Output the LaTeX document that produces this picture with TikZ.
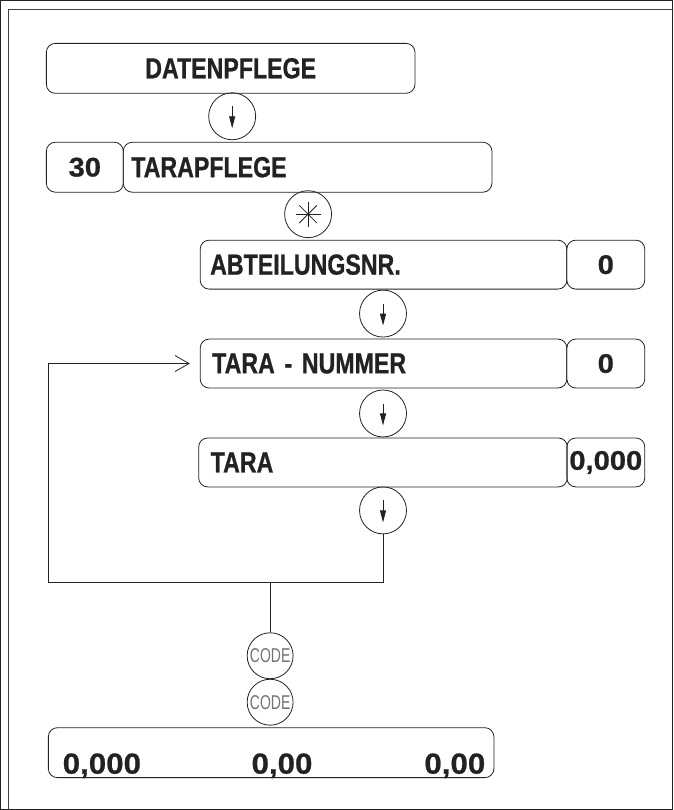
\documentclass[tikz,border=0pt]{standalone}
\usepackage{fontspec}
\setmainfont{Liberation Sans}
\newfontfamily\wordfont{Liberation Sans}[FakeStretch=0.8, FakeBold=0.8]
\newfontfamily\numfont{Liberation Sans}[FakeStretch=1.08, FakeBold=0.8]
\newfontfamily\codefont{Liberation Sans}[FakeStretch=0.7]
\usetikzlibrary{arrows.meta}
\definecolor{ink}{HTML}{222222}
\begin{document}
\begin{tikzpicture}[x=1pt,y=-1pt,
  every path/.style={line width=0.8pt, draw=ink},
  box/.style={draw=ink, rounded corners=9pt, line width=0.8pt, inner sep=0pt,
    minimum height=49pt, text=ink,
    font=\wordfont\bfseries\fontsize{29}{29}\selectfont},
  lbox/.style={box, align=left, inner xsep=#1},
  vbox/.style={box, font=\numfont\bfseries\fontsize{27}{27}\selectfont},
  keyc/.style={draw=ink, circle, minimum size=47pt, inner sep=0pt, line width=0.8pt},
  downkey/.style={keyc, path picture={
      \draw[line width=0.9pt, -{Triangle[length=12pt,width=6pt]}]
        ([yshift=10pt]path picture bounding box.center) --
        ([yshift=-12pt]path picture bounding box.center);}},
  starkey/.style={keyc, path picture={
      \foreach \a in {0,45,90,135}
        \draw[line width=0.8pt] (path picture bounding box.center) +(\a:12.5pt) -- +(\a+180:12.5pt);}},
  codekey/.style={keyc, minimum size=46pt, text=black!55,
    font=\codefont\fontsize{20}{20}\selectfont},
  num/.style={inner sep=0pt, anchor=base west, text=ink,
    font=\numfont\bfseries\fontsize{29}{29}\selectfont}
]
\useasboundingbox (0,0) rectangle (673,810);
% frame
\draw[line width=1.2pt, draw=black!75] (8,810) -- (8,9) -- (673,9);

% top
\node[box, minimum width=369pt, minimum height=50pt] (dat) at (230.5,68) {DATENPFLEGE};
\node[downkey] (k1) at (232,116) {};
\node[vbox, minimum width=77pt, minimum height=50pt] (n30) at (84.5,167) {30};
\node[lbox=8pt, text width=353pt, minimum height=50pt] (tpf) at (307.5,167) {TARAPFLEGE};
\node[starkey] (k2) at (308,214) {};

% ABTEILUNGSNR
\node[lbox=10pt, text width=347pt] (abt) at (383.5,264.5) {ABTEILUNGSNR.};
\node[vbox, minimum width=78pt] (abtv) at (606,264.5) {0};
\node[downkey] (k3) at (383,313.5) {};

% TARA - NUMMER
\node[lbox=12pt, text width=343pt] (tnr) at (383.5,363.5) {TARA - NUMMER};
\node[vbox, minimum width=78pt] (tnrv) at (606,363.5) {0};
\node[downkey] (k4) at (383,413.5) {};

% TARA
\node[lbox=12pt, text width=345pt] (tara) at (383,462.5) {TARA};
\node[vbox, minimum width=78pt, inner xsep=1pt] (tarav) at (606,462.5) {0,000};
\node[downkey] (k5) at (383,510.5) {};

% loop
\coordinate (lb) at (48,583);
\coordinate (rb) at (383,583);
\coordinate (mb) at (270,583);
\draw[-{Straight Barb[length=14pt,width=16pt,line width=0.8pt]}, shorten >=10pt]
  (k5.south) -- (rb) -- (lb) -- (lb |- tnr.west) -- (tnr.west);

% CODE keys
\node[codekey] (c1) at (270,656) {CODE};
\node[codekey] (c2) at (270,702.5) {CODE};
\draw (mb) -- (c1.north);

% result box
\node[box, minimum width=446pt, minimum height=50pt] (res) at (271,753) {};
\node[num] (r1) at (62,774) {0,000};
\node[num] (r2) at (251,774) {0,00};
\node[num] (r3) at (424,774) {0,00};
\end{tikzpicture}
\end{document}
